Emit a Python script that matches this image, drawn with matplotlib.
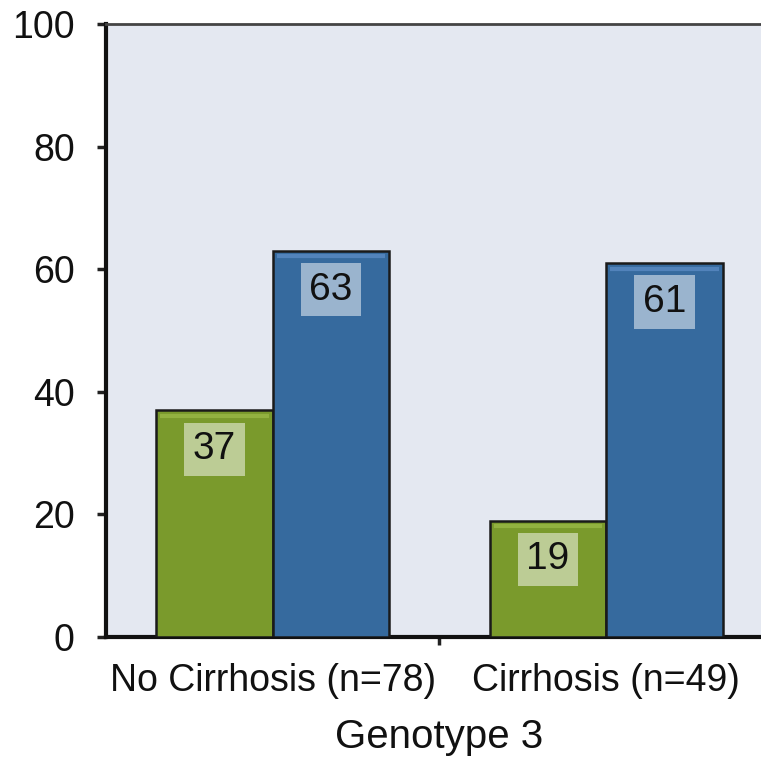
import matplotlib
matplotlib.use("Agg")
import matplotlib.pyplot as plt
import numpy as np

plt.rcParams['font.family'] = ['Liberation Sans', 'DejaVu Sans']

categories = ["No Cirrhosis (n=78)", "Cirrhosis (n=49)"]
series_a = [37, 19]   # green bars
series_b = [63, 61]   # blue bars
y_ticks = [0, 20, 40, 60, 80, 100]
x_title = "Genotype 3"

green = "#7A9A2C"
blue = "#366A9E"

fig = plt.figure(figsize=(7.61, 7.58), dpi=100)
ax = fig.add_axes([106 / 761, 1 - 637 / 758, (773 - 106) / 761, (637 - 24) / 758])
ax.set_facecolor("#E4E8F1")

x = np.arange(len(categories))
w = 0.35
bars_a = ax.bar(x - w / 2, series_a, width=w, color=green, edgecolor="#1a1a1a", linewidth=1.8, zorder=3)
bars_b = ax.bar(x + w / 2, series_b, width=w, color=blue, edgecolor="#1a1a1a", linewidth=1.8, zorder=3)

# light bevel along the top of each bar
for bars, vals, hl in ((bars_a, series_a, "#92B140"), (bars_b, series_b, "#5283BB")):
    for b, v in zip(bars, vals):
        x0 = b.get_x()
        ax.plot([x0 + 0.012, x0 + b.get_width() - 0.012], [v - 0.9, v - 0.9],
                color=hl, linewidth=3, solid_capstyle="butt", zorder=4)

for bars, vals in ((bars_a, series_a), (bars_b, series_b)):
    for b, v in zip(bars, vals):
        ax.annotate(f"{v}", xy=(b.get_x() + b.get_width() / 2, v), xytext=(0, -28),
                    textcoords="offset points", ha="center", va="center",
                    fontsize=28, color="#111111", zorder=5,
                    bbox=dict(boxstyle="square,pad=0.22", facecolor="white", alpha=0.5, edgecolor="none"))

ax.set_xlim(-0.5, 1.5)
ax.set_ylim(0, 100)
ax.set_yticks(y_ticks)
ax.tick_params(axis="y", labelsize=27, length=6.5, width=2.5, pad=16, colors="#222222", labelcolor="#111111")

ax.set_xticks([0.5])
ax.set_xticklabels([""])
ax.set_xticks(x, minor=True)
ax.set_xticklabels(categories, minor=True)
ax.tick_params(axis="x", which="major", length=6, width=2.5, colors="#222222")
ax.tick_params(axis="x", which="minor", length=0, labelsize=27, pad=19, labelcolor="#111111")

ax.set_xlabel(x_title, fontsize=29, color="#111111")
ax.xaxis.set_label_coords(0.5, -(737 - 637) / (637 - 24))
ax.xaxis.label.set_verticalalignment("center")

for s in ("left", "bottom"):
    ax.spines[s].set_linewidth(3)
    ax.spines[s].set_color("#111111")
ax.spines["top"].set_linewidth(2)
ax.spines["top"].set_color("#444444")
ax.spines["right"].set_visible(False)

fig.savefig("out.png", dpi=100)
